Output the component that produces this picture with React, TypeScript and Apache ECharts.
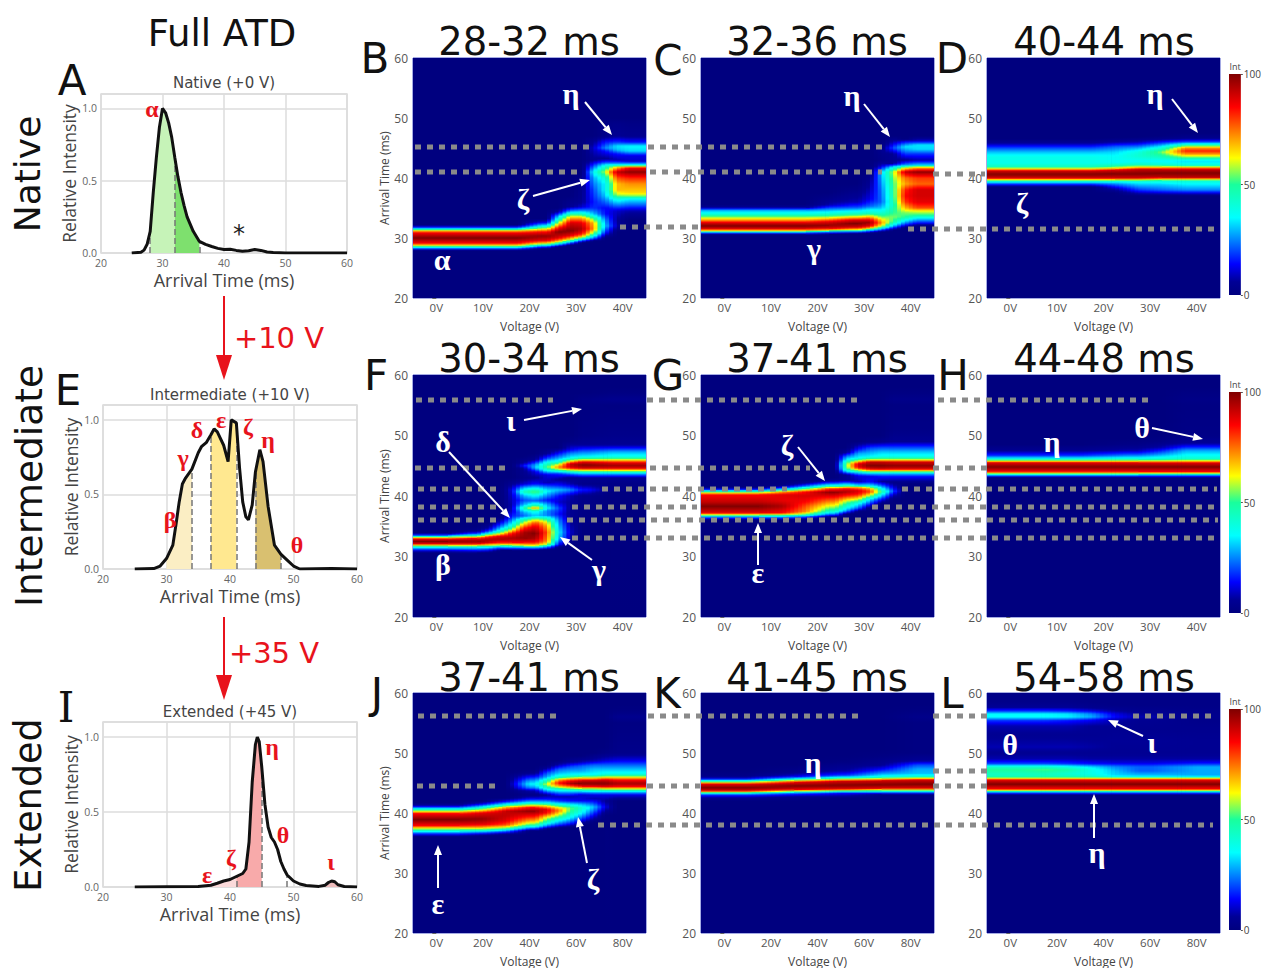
import React, { useEffect, useRef } from "react";
import * as echarts from "echarts";

// ---------- line charts: [arrival time ms, relative intensity]
const atdNative = [[25,0],[26.5,.005],[27,.02],[27.5,.06],[28,.15],[28.5,.42],[29,.66],[29.5,.87],[30,1],[30.5,.97],[31,.9],[31.5,.8],[32,.66],[32.5,.53],[33,.42],[33.5,.33],[34,.25],[34.5,.2],[35,.15],[36,.08],[37,.06],[38,.045],[39,.032],[40,.024],[41,.026],[42,.018],[43,.012],[44,.016],[45,.024],[46,.018],[47,.007],[48,.003],[50,0],[60,0]];
const atdIntermediate = [[25,0],[28,.003],[29,.02],[30,.07],[31,.16],[31.5,.3],[32,.45],[32.5,.57],[33,.61],[34,.67],[35,.78],[35.5,.82],[36.3,.85],[37,.9],[37.5,.94],[38,.92],[39,.83],[39.7,.72],[40.2,1],[41,.98],[41.5,.68],[42,.45],[42.5,.35],[42.9,.33],[43.5,.43],[44,.65],[44.7,.8],[45.2,.72],[46,.42],[47,.16],[48,.1],[49,.06],[50,.02],[51,0],[56,.003],[60,0]];
const atdExtended = [[25,0],[35,.003],[37,.012],[38,.025],[39,.04],[40,.05],[41,.07],[42,.09],[42.5,.12],[43,.3],[43.5,.7],[44,.95],[44.3,1],[44.6,.97],[45,.8],[45.5,.55],[46,.4],[46.5,.33],[47,.3],[47.5,.25],[48,.17],[48.5,.12],[49,.08],[50,.04],[51,.02],[52,.01],[54,.004],[55,.012],[55.5,.03],[56,.04],[56.5,.035],[57,.015],[58,.003],[60,0]];
const bandsNative = [[28,32,"#c6f3b8"],[32,36,"#7ee06e"]];
const bandsIntermediate = [[30,34,"#fbeec4"],[37,41,"#ffe890"],[44,48,"#d9c070"]];
const bandsExtended = [[37,41,"#fbdada"],[41,45,"#f8aaaa"],[54,58,"#eebcbc"]];
const dashesNative = [28,32,36];
const dashesIntermediate = [34,37,41,44,48];
const dashesExtended = [41,45,49];

// ---------- heat maps: each column = [voltage from, voltage to, [time, intensity, time, intensity, ...]]
const panelB: any[] = [
[-5,20,[27.9,0,28.3,25,28.7,60,29.1,85,30,100,30.9,85,31.3,60,31.7,20,32.2,0]],
[20,25,[28.2,0,28.7,30,29.1,65,29.6,88,30.3,98,31,85,31.5,62,32,35,32.6,12,33.2,0]],
[25,27.5,[28.5,0,29,35,29.5,70,30,88,31,100,31.7,85,32.3,65,33,45,33.6,30,34.3,8,35,0]],
[27.5,30,[28.8,0,29.3,30,29.8,65,30.4,88,31.2,100,32.5,90,33.3,70,33.9,50,34.5,25,35.2,5,36,3]],
[30,32.5,[29.2,0,29.7,30,30.2,65,30.7,85,31.5,95,32.5,88,33.3,70,34,45,34.6,25,35.2,10,36,5,40,2]],
[32.5,35,[29.5,0,30,25,30.8,55,31.5,72,32.5,68,33.3,50,34,30,35,18,36,16,38,20,40,28,41,36,42,20,43,5,45,10,46,5]],
[35,37.5,[30,0,31,18,32,30,33,25,34,15,35,14,36,22,37,30,38,35,39,35,40,42,41,58,42,40,42.6,20,43.2,5,44.5,15,45,25,46,15,47,3,49,2]],
[37.5,40,[31,0,32,8,33,6,34.5,10,35.5,25,36.5,40,37.2,58,38,68,39,68,40,78,41,92,41.8,65,42.3,30,43,8,44,15,44.7,30,45.3,33,46,18,47,5,49,3]],
[40,45,[33,0,34.5,8,35.5,22,36.5,35,37,55,37.5,65,39,72,40,82,41,98,41.7,85,42.2,35,42.8,10,43.7,12,44.5,32,45.3,35,46,15,47,4,49,2]],
];
const panelC: any[] = [
[-5,20,[30.5,0,30.9,25,31.2,65,31.6,90,32,100,32.5,90,33,70,33.5,55,34,40,34.6,28,35.1,5,35.6,0]],
[20,25,[30.6,0,31,25,31.3,65,31.6,88,32.1,98,32.7,88,33.2,68,33.7,50,34.2,38,34.8,25,35.5,8,36.5,3]],
[25,30,[30.7,0,31.1,28,31.4,65,31.8,90,32.4,100,33,88,33.4,68,33.9,48,34.5,35,35.1,20,36,8,38,2]],
[30,32.5,[30.8,0,31.2,25,31.6,65,32,88,32.6,97,33.1,85,33.6,65,34.1,45,34.7,35,35.3,22,36.5,12,38,8,40,3]],
[32.5,35,[31,0,31.5,28,32,60,32.5,72,33,65,33.6,52,34.3,40,35,30,36,22,38,24,40,28,41,30,42,10,43,2,44.5,4]],
[35,37.5,[31.3,0,32,30,32.7,50,33.5,55,34.3,50,35.5,45,37,48,38.5,50,40,55,41,58,41.8,35,42.4,5,44,5,45,20,46,8]],
[37.5,40,[31.7,0,32.3,20,33,38,33.5,50,34.2,55,35,68,36,80,37,85,38,82,39,70,40,75,41,92,41.7,60,42.2,25,43,5,44.5,25,45.2,33,46,15,46.5,0]],
[40,45,[32,0,32.5,15,33.2,32,33.8,50,34.5,62,35,78,36,88,37,90,38,90,39,76,40,80,41,98,41.7,70,42.2,30,43,8,44,18,44.8,32,45.5,33,46.2,10,47,0]],
];
const panelD: any[] = [
[-5,20,[38.5,0,39,20,39.4,38,39.7,62,40,90,40.6,100,41.2,90,41.5,65,41.9,45,42.5,38,43.5,38,44.3,30,45,20,45.8,6,46.5,0]],
[20,25,[37.5,0,38.2,8,39,25,39.4,38,39.7,62,40,90,40.7,100,41.3,90,41.6,65,42,48,42.6,36,43.5,36,44.3,32,45.2,22,46,6,46.7,0]],
[25,30,[37,0,38,18,39,32,39.4,40,39.7,62,40,90,40.7,100,41.4,92,41.8,65,42.2,45,42.8,36,43.7,42,44.3,40,45,28,46,8,46.8,0]],
[30,35,[37,0,38,22,39,32,39.5,42,39.8,65,40.1,92,40.8,100,41.4,92,41.8,65,42.2,42,42.8,35,43.5,45,44.3,55,45,40,45.7,22,46.5,4,47,0]],
[35,45,[37,0,38,25,39,35,39.5,42,39.8,65,40.1,92,40.8,100,41.4,92,41.8,65,42.1,42,42.8,32,43.4,52,44,72,44.5,82,45,72,45.5,45,46,20,46.6,4,47.5,0]],
];
const panelF: any[] = [
[-5,5,[30.5,0,31,12,31.5,35,31.8,60,32.1,88,32.5,100,32.9,85,33.2,55,33.5,20,33.9,0]],
[5,10,[30.5,0,31,15,31.5,35,31.8,60,32.1,88,32.5,98,33,85,33.3,55,33.7,22,34.2,3,35,0]],
[10,12.5,[30.6,0,31.2,20,31.6,40,31.9,65,32.3,90,32.8,95,33.2,85,33.6,55,34,25,34.6,8,35.5,0]],
[12.5,15,[31,0,31.5,25,31.8,50,32.2,80,32.8,95,33.3,90,33.8,60,34.3,38,35,22,35.7,10,36.5,0]],
[15,17.5,[31,0,31.5,28,31.9,60,32.3,85,33,95,33.8,85,34.4,60,35,42,35.7,30,36.5,18,37.5,10,38.5,8,40,10,41,12,42,5,43,0]],
[17.5,20,[31,0,31.5,30,31.8,60,32.3,85,33,98,34,95,34.8,80,35.5,60,36.1,45,36.7,22,37.3,28,38,45,38.6,28,39.3,20,40.1,30,40.7,45,41.3,30,42,10,43,3,44.5,5,45,15,45.5,5]],
[20,22.5,[31,0,31.5,32,31.8,62,32.3,85,33,95,33.8,100,34.8,90,35.5,80,36.1,60,36.7,30,37.4,38,38,72,38.5,45,39.2,22,40,35,40.7,55,41.3,35,42,15,43,5,44,12,44.7,30,45.2,25,46,5,47,0]],
[22.5,25,[31.1,0,31.6,28,32,58,32.5,72,33.2,75,34,78,35,70,35.6,62,36.2,48,36.8,25,37.5,25,38,35,38.6,28,39.3,15,40,25,40.8,35,41.4,25,42.2,8,43.5,12,44.3,40,44.8,52,45.5,40,46.2,20,47,5,48,0]],
[25,27.5,[31.5,0,32,15,33,30,34,35,35,30,36,25,37,15,38,20,39,10,40,15,41,30,41.8,15,42.7,5,43.7,18,44.2,45,44.7,75,45.2,60,45.7,38,46.4,25,47.3,10,48,0]],
[27.5,30,[32,0,33,8,34,10,35,8,36,5,38,5,40,8,41,25,42,8,43,3,43.7,25,44.2,55,44.7,90,45.3,92,45.8,60,46.3,35,47,25,47.7,12,49,2]],
[30,35,[33,0,40,3,41,15,42,3,43,5,43.7,30,44.2,60,44.6,90,45.1,100,45.6,88,46,60,46.5,35,47.2,25,47.8,15,48.5,5,50,2,54,1,56,2]],
[35,45,[41,3,42,2,43,5,43.7,30,44.2,62,44.6,88,45,96,45.5,88,46,60,46.5,38,47.3,28,47.9,15,48.5,5,50,3,55,1,56,4,57,1]],
];
const panelG: any[] = [
[-5,10,[36,0,36.5,25,36.9,60,37.2,88,38.3,100,39,92,40.2,85,40.5,65,40.8,40,41.1,15,41.5,0]],
[10,15,[36,0,36.5,25,36.9,60,37.2,85,38.3,95,39.2,88,40.2,88,40.7,70,41,40,41.4,15,41.8,0]],
[15,20,[36.1,0,36.6,25,37,55,37.4,72,38.3,78,39,85,40,90,40.7,85,41.1,55,41.6,25,42.1,5,42.6,0]],
[20,25,[36.5,0,37,25,37.5,45,38.2,58,39,72,40,88,40.6,98,41.2,80,41.6,45,42,25,42.5,5,43,0]],
[25,27.5,[37,0,37.5,25,38.2,40,39,55,40,82,40.7,95,41.2,85,41.7,45,42.1,25,42.6,5,43.5,5,44,30,44.5,50,45,55,45.5,50,46,35,46.5,25,47.2,5,48,0]],
[27.5,30,[37.4,0,38,22,38.8,38,39.6,65,40.3,85,40.9,90,41.4,70,41.8,30,42.4,8,43.3,12,43.8,30,44.2,55,44.7,88,45.3,90,45.8,60,46.3,35,47,28,47.7,15,49,0]],
[30,32.5,[38,0,38.8,20,39.5,35,40.1,60,40.7,80,41.2,70,41.7,35,42.3,15,43.2,12,43.7,30,44.1,60,44.5,90,45,100,45.6,92,46,60,46.5,35,47.2,28,47.9,20,49,2]],
[32.5,35,[38.7,0,39.3,12,40,30,40.7,50,41.2,38,41.8,20,42.4,6,43.2,15,43.7,30,44.1,60,44.5,92,45,100,45.6,92,46,60,46.5,38,47.3,30,48,20,49,3]],
[35,37.5,[39.5,0,40.2,10,40.8,20,41.4,12,42.2,3,43.2,15,43.7,30,44.1,60,44.5,90,45,98,45.6,90,46,60,46.5,38,47.3,30,48,20,49,5,51,2,55,1,56,3,57,1]],
[37.5,45,[42,0,43.2,15,43.7,30,44.1,60,44.5,90,45,98,45.6,90,46,60,46.5,38,47.3,30,48,20,49,5,51,2,55,1,56,3,57,1]],
];
const panelH: any[] = [
[-5,20,[43,0,43.4,25,43.7,55,44,85,44.8,100,45.5,88,45.8,60,46.2,35,46.7,18,47.5,5,48.5,0]],
[20,30,[43,0,43.4,25,43.7,55,44,85,44.8,100,45.5,88,45.8,60,46.2,38,46.8,22,47.5,8,48.5,2]],
[30,35,[43,0,43.4,25,43.7,55,44,85,44.8,100,45.5,88,45.8,60,46.2,40,46.8,28,47.4,18,48,8,49,2]],
[35,45,[43,0,43.4,25,43.7,55,44,85,44.8,100,45.5,88,45.8,62,46.2,42,46.8,35,47.5,28,48,18,48.7,6,50,2,55,1,56,2,57,1]],
];
const panelJ: any[] = [
[-10,15,[36,0,36.6,20,37,40,37.4,60,37.9,85,38.9,100,39.9,85,40.3,60,40.8,30,41.2,8,41.7,0]],
[15,25,[36.2,0,36.8,25,37.2,50,37.6,70,38.1,88,39,98,40,88,40.5,62,41,35,41.5,12,42,0]],
[25,35,[36.4,0,37,25,37.5,55,38,78,38.7,88,39.5,92,40.3,92,40.9,70,41.4,38,41.9,15,42.5,0]],
[35,45,[37,0,37.5,25,38,50,38.6,68,39.3,82,40.3,98,40.9,85,41.3,60,41.8,32,42.4,12,43,2,43.7,8,44.2,25,44.8,35,45.3,28,46,15,46.7,3,47.3,0]],
[45,50,[37.3,0,37.8,22,38.5,45,39.2,60,40,85,40.6,88,41.2,62,41.7,35,42.3,15,43,5,43.6,25,44.2,45,44.8,60,45.4,45,46,28,46.7,20,47.5,5,48,0]],
[50,55,[37.5,0,38,18,39,42,39.7,60,40.4,75,40.9,62,41.4,40,42,18,42.7,8,43.4,25,44,45,44.5,70,45,85,45.5,70,46,42,46.6,30,47.3,22,48,8,48.7,0]],
[55,60,[37.6,0,38.2,15,39.2,35,40.2,50,40.8,55,41.4,35,42,15,42.7,8,43.4,25,44,50,44.4,75,44.9,95,45.4,85,45.9,55,46.4,35,47,28,47.7,20,48.5,5,49.5,0]],
[60,65,[38,0,39,18,40,35,40.8,42,41.4,30,42.1,12,43,10,43.5,28,44,55,44.4,85,44.9,100,45.4,90,45.9,60,46.4,36,47,28,47.8,22,48.5,8,49.5,0]],
[65,70,[38.5,0,39.5,12,40.5,25,41,30,41.6,20,42.4,8,43,12,43.5,30,44,55,44.4,85,44.9,100,45.4,90,45.9,60,46.4,36,47.3,30,48,22,48.7,8,50,0]],
[70,75,[40,3,41,12,42,6,43,12,43.5,30,44,60,44.4,88,44.9,100,45.5,90,46,60,46.5,38,47.3,30,48,22,48.8,10,50,2]],
[75,90,[42,0,43,12,43.5,30,44,60,44.4,85,44.9,96,45.5,85,46,60,46.5,38,47.3,30,48,22,48.8,12,50,3,55,1,56,4,57,1]],
];
const panelK: any[] = [
[-10,20,[42,0,42.5,5,43,18,43.3,40,43.5,65,43.7,88,44.2,100,44.8,88,45.1,62,45.4,35,45.7,12,46.2,2,47,0]],
[20,40,[42,0,42.7,5,43.2,18,43.5,42,43.7,65,43.9,88,44.5,100,45.1,88,45.4,62,45.7,35,46.1,12,46.8,3,48,0]],
[40,60,[42.5,0,43.3,15,43.6,40,43.8,65,44,88,44.6,100,45.3,90,45.6,62,45.9,38,46.3,18,47,7,48.5,1]],
[60,75,[43,0,43.3,15,43.6,40,43.9,65,44.1,88,44.7,100,45.4,90,45.7,62,46,40,46.5,28,47.2,15,48,5,49.5,1]],
[75,90,[43,0,43.3,15,43.6,40,43.9,65,44.1,88,44.8,100,45.5,90,45.8,62,46.1,40,46.6,30,47.3,28,48,20,48.7,6,50,1,55,1,56,3,57,1]],
];
const panelL: any[] = [
[-10,10,[43,0,43.4,25,43.7,55,44,85,44.8,100,45.5,88,45.8,60,46.1,45,46.6,45,47.2,50,47.7,42,48.2,20,49,8,50,5,51,8,53,5,54.5,8,55.4,18,56,35,56.5,35,57,18,57.6,6,58.5,3,60,2]],
[10,20,[43,0,43.4,25,43.7,55,44,85,44.8,100,45.5,88,45.8,60,46.1,45,46.6,46,47.2,52,47.7,42,48.2,20,49,8,50,5,51,8,53,5,54.5,8,55.4,18,56,35,56.5,35,57,18,57.6,6,58.5,3,60,2]],
[20,30,[43,0,43.4,25,43.7,55,44,85,44.8,100,45.5,88,45.8,60,46.1,45,46.6,42,47.2,48,47.7,38,48.2,18,49,8,50,5,51,8,53,5,54.5,8,55.4,16,56,34,56.5,33,57,16,57.6,6,58.5,3,60,2]],
[30,40,[43,0,43.4,25,43.7,55,44,85,44.8,100,45.5,88,45.8,60,46.1,42,46.6,38,47.2,38,47.7,32,48.2,15,49,7,50,5,51,7,53,5,54.5,6,55.5,14,56,28,56.5,25,57,12,57.6,4,58.5,2,60,2]],
[40,50,[43,0,43.4,25,43.7,55,44,85,44.8,100,45.5,88,45.8,60,46,40,46.3,32,47,30,47.7,25,48.3,12,49,7,50,5,52,6,54,5,55.5,8,56,14,56.5,12,57,6,58,2,60,2]],
[50,70,[43,0,43.4,25,43.7,55,44,85,44.8,100,45.5,88,45.8,60,46,38,46.3,30,47,22,47.7,22,48.3,12,49,7,50,5,52,6,54,4,55.5,5,56,8,57,4,58,2,60,2]],
[70,90,[43,0,43.4,25,43.7,55,44,85,44.8,100,45.5,88,45.8,60,46,38,46.3,28,47,28,47.7,28,48.3,15,49,7,50,5,52,5,54,4,55.5,3,56,4,57,3,58,2,60,2]],
];

const panelTitles = ["28-32 ms","32-36 ms","40-44 ms","30-34 ms","37-41 ms","44-48 ms","37-41 ms","41-45 ms","54-58 ms"];
const panelData = [panelB,panelC,panelD,panelF,panelG,panelH,panelJ,panelK,panelL];
const panelLetters = ["B","C","D","F","G","H","J","K","L"];
const voltageTicksShort = [0,10,20,30,40];
const voltageTicksLong = [0,20,40,60,80];
const colorbarTicks = [0,50,100];

// ---------- layout
const colLeft = [413,701,987];
const colWidth = 233;
const rowTop = [58,375,693];
const rowHeight = [240,242,241];
const titleX = [529,817,1104];
const titleY = [41,358,677];
const letterPos = [[375,58],[668,60],[952,58],[376,375],[668,375],[953,375],[377,693],[667,693],[952,693]];
const barTop = [74,392,709];
const barH = 221;

const jet: [number,string][] = [[0,"#00007f"],[.06,"#000096"],[.14,"#0000ff"],[.35,"#00ffff"],[.5,"#19ff9c"],[.62,"#ffff00"],[.85,"#ff0000"],[1,"#7f0000"]];
function hex(c:string){return [1,3,5].map(i=>parseInt(c.slice(i,i+2),16));}
function jetColor(v:number){
  const t=Math.max(0,Math.min(1,v/100));
  for(let i=1;i<jet.length;i++){
    if(t<=jet[i][0]){
      const f=(t-jet[i-1][0])/(jet[i][0]-jet[i-1][0]);
      const a=hex(jet[i-1][1]),b=hex(jet[i][1]);
      return `rgb(${a.map((x,k)=>Math.round(x+(b[k]-x)*f)).join(",")})`;
    }
  }
  return jet[jet.length-1][1];
}
// Shading only: a column's colour at time t, following the read values. The series data stay the read columns.
function shade(k:number[],t:number){
  const n=k.length;
  if(t<=k[0])return t<k[0]-.5?0:k[1]*(t-(k[0]-.5))/.5;
  if(t>=k[n-2])return t>k[n-2]+1?0:k[n-1]*(k[n-2]+1-t);
  for(let i=2;i<n;i+=2){
    if(t<=k[i]){const f=(t-k[i-2])/(k[i]-k[i-2]);return k[i-1]+(k[i+1]-k[i-1])*f;}
  }
  return 0;
}
function gradient(a:number[],b:number[]|null,f:number){
  let lo=a[0]-.5,hi=a[a.length-2]+1;
  if(b){lo=Math.min(lo,b[0]-.5);hi=Math.max(hi,b[b.length-2]+1);}
  const stops:any[]=[{offset:0,color:jetColor(0)}];
  for(let t=Math.min(hi,60);t>=lo;t-=.2){
    const v=b?shade(b,t)*f+shade(a,t)*(1-f):shade(a,t);
    stops.push({offset:(60-t)/40,color:jetColor(v)});
  }
  stops.push({offset:1,color:jetColor(0)});
  return new echarts.graphic.LinearGradient(0,0,0,1,stops);
}

const Z=100;
const sans='"DejaVu Sans"';
function txt(text:string,x:number,y:number,size:number,fill:string,family=sans,weight:any="normal",rotation=0,z=Z+2){
  return {type:"text",x,y,rotation,z,silent:true,style:{text,fill,fontSize:size,fontFamily:family,fontWeight:weight,textAlign:"center",textVerticalAlign:"middle"}};
}
function arrow(x1:number,y1:number,x2:number,y2:number,color:string,w:number,hl:number,hw:number){
  const d=Math.hypot(x2-x1,y2-y1),ux=(x2-x1)/d,uy=(y2-y1)/d;
  const bx=x2-ux*hl,by=y2-uy*hl;
  return [
    {type:"line",z:Z+1,silent:true,shape:{x1,y1,x2:bx,y2:by},style:{stroke:color,lineWidth:w}},
    {type:"polygon",z:Z+1,silent:true,shape:{points:[[x2,y2],[bx-uy*hw/2,by+ux*hw/2],[bx+uy*hw/2,by-ux*hw/2]]},style:{fill:color}},
  ];
}

const guides=[
[147,415,590],[147,648,883],[172,415,581],[172,650,882],[174,933,985],[227,620,698],[229,908,1215],
[400,416,553],[400,647,857],[400,938,1150],[468,415,505],[468,650,810],[468,933,987],
[489,418,497],[489,602,787],[489,902,1217],[507,418,497],[507,572,697],[507,872,1215],
[520,418,497],[520,567,1218],[538,572,1218],
[716,418,557],[716,648,858],[716,933,987],[716,1133,1212],[786,417,496],[786,647,700],[786,933,987],[771,933,987],[825,598,1213],
];
const whiteLabels:[string,number,number][]=[
["η",571,93],["ζ",523,198],["α",442,259],["η",852,95],["γ",814,248],["η",1155,93],["ζ",1022,202],
["ι",511,420],["δ",443,441],["β",443,564],["γ",599,569],["ζ",787,444],["ε",758,572],["η",1052,441],["θ",1142,427],
["ε",438,903],["ζ",593,878],["η",813,762],["θ",1010,744],["ι",1152,742],["η",1097,852],
];
const whiteArrows=[
[585,102,612,135],[533,196,590,180],[864,104,890,137],[1172,99,1198,133],
[524,420,582,409],[449,452,510,518],[592,560,560,537],[798,447,825,481],[758,565,758,523],[1152,428,1203,439],
[438,888,438,845],[587,863,578,817],[1143,736,1108,720],[1094,838,1094,794],
];
const redLabels:[string,number,number][]=[
["α",152,109],["β",170,520],["γ",183,458],["δ",197,430],["ε",221,420],["ζ",248,427],["η",268,440],["θ",297,545],
["ε",207,875],["ζ",231,858],["η",272,747],["θ",283,835],["ι",331,862],
];

const lineCharts=[
 {data:atdNative,bands:bandsNative,dashes:dashesNative,left:101,width:246,top:94,height:159,title:"Native (+0 V)",tx:224,ty:83},
 {data:atdIntermediate,bands:bandsIntermediate,dashes:dashesIntermediate,left:103,width:254,top:405,height:164,title:"Intermediate (+10 V)",tx:230,ty:395},
 {data:atdExtended,bands:bandsExtended,dashes:dashesExtended,left:103,width:254,top:722,height:165,title:"Extended (+45 V)",tx:230,ty:712},
];

function buildOption(){
  const grid:any[]=[],xAxis:any[]=[],yAxis:any[]=[],series:any[]=[];
  const plotly='"Open Sans"';
  lineCharts.forEach((c,i)=>{
    grid.push({left:c.left,top:c.top,width:c.width,height:c.height,show:true,borderColor:"#dcdcdc",borderWidth:1.5,backgroundColor:"#fff"});
    xAxis.push({type:"value",gridIndex:i,min:20,max:60,interval:10,name:"Arrival Time (ms)",nameLocation:"middle",nameGap:17,
      nameTextStyle:{fontSize:18,color:"#444",fontFamily:plotly,lineHeight:19},
      axisLine:{show:false},axisTick:{show:false},splitLine:{show:true,lineStyle:{color:"#dcdcdc",width:1.5}},
      axisLabel:{fontSize:10.5,color:"#666",fontFamily:plotly,margin:4,lineHeight:11}});
    yAxis.push({type:"value",gridIndex:i,min:0,max:1.1,interval:.5,name:"Relative Intensity",nameLocation:"middle",nameGap:22,
      nameTextStyle:{fontSize:17.5,color:"#444",fontFamily:plotly,lineHeight:18},
      axisLine:{show:false},axisTick:{show:false},splitLine:{show:true,lineStyle:{color:"#dcdcdc",width:1.5}},
      axisLabel:{fontSize:10.5,color:"#666",fontFamily:plotly,margin:4,lineHeight:11,showMaxLabel:false,formatter:(v:number)=>v.toFixed(1)}});
    c.bands.forEach((b:any)=>{
      series.push({type:"line",xAxisIndex:i,yAxisIndex:i,showSymbol:false,silent:true,z:2,lineStyle:{width:0},
        areaStyle:{color:b[2],opacity:1},data:c.data.filter((p:number[])=>p[0]>=b[0]&&p[0]<=b[1])});
    });
    series.push({type:"line",xAxisIndex:i,yAxisIndex:i,showSymbol:false,silent:true,z:4,
      lineStyle:{color:"#111",width:3},data:c.data,
      markLine:{silent:true,symbol:"none",label:{show:false},z:3,lineStyle:{color:"#777",type:"dashed",width:1.5},
        data:c.dashes.map((t:number)=>{
          const p=c.data.find((q:number[])=>q[0]===t) as number[];
          return [{coord:[t,0]},{coord:[t,p[1]]}];
        })}});
  });
  panelData.forEach((cols,pi)=>{
    const r=Math.floor(pi/3),cc=pi%3,g=grid.length;
    const long=r===2;
    grid.push({left:colLeft[cc],top:rowTop[r],width:colWidth,height:rowHeight[r],show:true,backgroundColor:"#00007f",borderColor:"#4a56c8",borderWidth:1});
    const ticks=long?voltageTicksLong:voltageTicksShort;
    xAxis.push({type:"value",gridIndex:g,min:long?-10:-5,max:long?90:45,name:"Voltage (V)",nameLocation:"middle",nameGap:22,
      nameTextStyle:{fontSize:12,color:"#444",fontFamily:plotly},
      axisLine:{show:false},axisTick:{show:false},splitLine:{show:false},
      axisLabel:{fontSize:11.5,color:"#555",fontFamily:plotly,margin:3,customValues:ticks,formatter:(v:number)=>v+"V"}});
    yAxis.push({type:"value",gridIndex:g,min:20,max:60,interval:10,name:cc===0?"Arrival Time (ms)":"",nameLocation:"middle",nameGap:21,
      nameTextStyle:{fontSize:12,color:"#444",fontFamily:plotly},
      axisLine:{show:false},axisTick:{show:true,length:4,lineStyle:{color:"#666"}},splitLine:{show:false},
      axisLabel:{fontSize:12,color:"#555",fontFamily:plotly,margin:5}});
    series.push({type:"custom",xAxisIndex:g,yAxisIndex:g,coordinateSystem:"cartesian2d",silent:true,clip:true,z:2,
      encode:{x:[0,1],y:[2,3]},
      data:cols.map((c:any)=>[c[0],c[1],20,60]),
      renderItem:(params:any,api:any)=>{
        const i=params.dataIndex,c=cols[i],prev=i>0?cols[i-1]:null;
        const a=api.coord([c[0],60]),b=api.coord([c[1],20]);
        const children:any[]=[];
        let start=a[0];
        if(prev){
          const pa=api.coord([prev[0],60]);
          const W=Math.min(a[0]-pa[0],b[0]-a[0]);
          const k=Math.max(2,Math.round(W/4)),sw=W/k,x0=a[0]-W/2;
          for(let j=0;j<k;j++){
            children.push({type:"rect",shape:{x:x0+j*sw,y:a[1],width:sw+.6,height:b[1]-a[1]},
              style:{fill:gradient(prev[2],c[2],(j+.5)/k)}});
          }
          start=a[0]+W/2;
        }
        children.push({type:"rect",shape:{x:start,y:a[1],width:b[0]-start+.6,height:b[1]-a[1]},style:{fill:gradient(c[2],null,0)}});
        return {type:"group",children};
      }});
  });
  barTop.forEach((top,r)=>{
    const g=grid.length;
    grid.push({left:1229,top,width:13,height:barH,show:false});
    xAxis.push({type:"category",gridIndex:g,data:["Int"],show:false});
    yAxis.push({type:"value",gridIndex:g,position:"right",min:0,max:100,interval:50,
      axisLine:{show:false},axisTick:{show:true,length:2,lineStyle:{color:"#555"}},splitLine:{show:false},
      axisLabel:{fontSize:10,color:"#444",fontFamily:plotly,margin:3,customValues:colorbarTicks}});
    series.push({type:"bar",xAxisIndex:g,yAxisIndex:g,barWidth:"100%",silent:true,data:[100],
      itemStyle:{color:new echarts.graphic.LinearGradient(0,1,0,0,jet.map(s=>({offset:s[0],color:s[1]})))}});
  });

  const els:any[]=[];
  guides.forEach(([y,x1,x2])=>els.push({type:"line",z:Z,silent:true,shape:{x1,y1:y,x2,y2:y},style:{stroke:"#8a8a8a",lineWidth:5,lineDash:[6,6]}}));
  whiteArrows.forEach(a=>els.push(...arrow(a[0],a[1],a[2],a[3],"#fff",2,10,8)));
  whiteLabels.forEach(l=>els.push(txt(l[0],l[1],l[2],30,"#fff",'"Liberation Serif"',"bold")));
  redLabels.forEach(l=>els.push(txt(l[0],l[1],l[2],24,"#e8131c",'"Liberation Serif"',"bold")));
  panelTitles.forEach((t,i)=>els.push(txt(t,titleX[i%3],titleY[Math.floor(i/3)],38.5,"#111")));
  panelLetters.forEach((t,i)=>els.push(txt(t,letterPos[i][0],letterPos[i][1],42,"#111")));
  els.push(txt("A",72,80,42,"#111"),txt("E",68,390,42,"#111"),txt("I",66,707,42,"#111",'"DejaVu Serif"'));
  els.push(txt("Full ATD",222,33,37,"#111"));
  els.push(txt("Native",27,174,36,"#111",sans,"normal",Math.PI/2));
  els.push(txt("Intermediate",29,486,37.5,"#111",sans,"normal",Math.PI/2));
  els.push(txt("Extended",28,805,36.5,"#111",sans,"normal",Math.PI/2));
  lineCharts.forEach(c=>els.push(txt(c.title,c.tx,c.ty,15,"#444",sans)));
  els.push(txt("*",239,234,24,"#222"));
  els.push(...arrow(224,296,224,380,"#e8131c",2,25,16),...arrow(224,617,224,700,"#e8131c",2,25,16));
  els.push(txt("+10 V",279,338,29,"#e8131c"),txt("+35 V",274,653,29,"#e8131c"));
  [66,384,701].forEach(y=>els.push(txt("Int",1235,y,9,"#444",plotly)));

  return {animation:false,backgroundColor:"#fff",grid,xAxis,yAxis,series,graphic:{elements:els}};
}

export default function App(){
  const ref=useRef<HTMLDivElement>(null);
  useEffect(()=>{
    const chart=echarts.init(ref.current!,undefined,{renderer:"svg"});
    chart.setOption(buildOption() as any);
    return ()=>chart.dispose();
  },[]);
  return <div ref={ref} style={{position:"absolute",left:0,top:0,width:1264,height:968}}/>;
}
